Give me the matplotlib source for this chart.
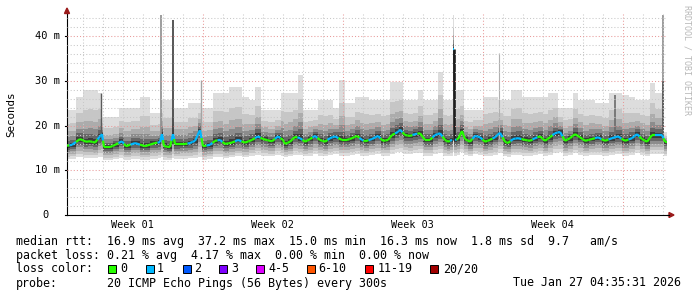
import numpy as np
import matplotlib
matplotlib.use('Agg')
import matplotlib.pyplot as plt
from matplotlib.collections import LineCollection
from matplotlib.patches import Polygon, Rectangle

plt.rcParams['font.family'] = ['DejaVu Sans Mono']

# time axis: days since the left edge of the graph (30 days shown)
days = [0.00, 0.25, 0.65, 0.95, 1.15, 1.40, 1.65, 1.75, 1.85, 2.15, 2.40, 2.75, 2.95, 3.40, 3.90,
        4.40, 4.65, 4.75, 4.85, 5.15, 5.30, 5.40, 5.90, 6.15, 6.40, 6.65, 6.80, 7.15, 7.40, 7.65,
        7.90, 8.25, 8.55, 8.90, 9.25, 9.55, 9.80, 10.25, 10.55, 10.80, 10.90, 11.15, 11.40, 11.65,
        11.90, 12.15, 12.40, 12.65, 12.90, 13.15, 13.40, 13.75, 14.00, 14.25, 14.50, 14.75, 14.90,
        15.25, 15.55, 15.80, 16.05, 16.25, 16.55, 16.65, 16.90, 17.15, 17.40, 17.65, 17.90, 18.15,
        18.40, 18.65, 18.90, 19.05, 19.25, 19.33, 19.40, 19.55, 19.75, 19.90, 20.15, 20.40, 20.65,
        20.90, 21.15, 21.40, 21.65, 21.90, 22.05, 22.30, 22.55, 22.90, 23.15, 23.40, 23.65, 23.90,
        24.15, 24.40, 24.65, 24.90, 25.15, 25.40, 25.65, 25.90, 26.25, 26.55, 26.90, 27.25, 27.55,
        27.90, 28.25, 28.50, 28.75, 29.00, 29.25, 29.50, 29.75, 29.90, 30.00]

# median rtt in ms
median_ms = [15.5, 15.7, 17.0, 16.4, 16.5, 16.2, 17.6, 18.1, 15.2, 15.2, 15.7, 16.5, 15.4, 16.1, 15.4,
             16.1, 16.3, 18.1, 15.4, 15.2, 18.1, 15.9, 15.9, 16.1, 16.6, 19.0, 15.4, 15.7, 16.6, 16.8,
             15.9, 16.2, 16.8, 16.2, 16.8, 17.6, 17.0, 16.5, 17.6, 16.8, 15.9, 16.4, 17.5, 17.2,
             16.4, 17.0, 17.7, 16.8, 16.4, 17.2, 17.6, 16.8, 16.8, 17.2, 17.7, 16.8, 16.5,
             17.0, 17.7, 16.6, 16.8, 17.9, 18.6, 19.1, 17.9, 17.7, 18.1, 18.3, 16.8, 16.8,
             17.9, 18.3, 16.8, 16.4, 16.8, 37.2, 16.8, 17.0, 18.8, 17.0, 16.4, 17.7, 17.4,
             16.4, 16.8, 17.4, 18.4, 16.4, 16.1, 17.0, 17.2, 16.8, 16.6, 17.2, 17.6, 16.6,
             17.4, 18.3, 18.6, 16.6, 17.2, 18.1, 17.4, 16.6, 17.0, 17.4, 16.6, 17.2, 17.6,
             16.6, 17.2, 18.1, 17.0, 16.4, 17.9, 17.9, 17.9, 16.4, 16.3]

# lost pings (of 20) per step
loss = [0, 1, 0, 0, 0, 0, 1, 1, 0, 0, 0, 1, 0, 1, 0,
        0, 1, 1, 0, 0, 1, 0, 0, 1, 1, 1, 0, 1, 0, 1,
        0, 0, 1, 0, 0, 1, 0, 0, 1, 0, 0, 0, 0, 1,
        0, 0, 1, 0, 0, 1, 1, 0, 0, 0, 0, 1, 0,
        1, 1, 0, 0, 0, 1, 1, 0, 0, 1, 0, 0, 0,
        1, 1, 0, 0, 1, 1, 1, 0, 0, 0, 0, 1, 1,
        0, 0, 1, 1, 0, 0, 1, 1, 0, 0, 1, 0, 0,
        0, 1, 1, 0, 0, 0, 0, 0, 0, 1, 0, 1, 1,
        0, 1, 1, 0, 0, 0, 1, 1, 0, 0]

# upper and lower edge of the smoke (ms)
smoke_hi = [23.5, 23.5, 26.4, 28.0, 28.0, 28.0, 27.3, 22.0, 22.0, 22.0, 22.0, 24.0, 24.0, 24.0, 26.4,
            22.8, 22.8, 25.7, 25.7, 25.7, 24.0, 24.0, 24.0, 25.0, 25.0, 25.0, 24.0, 24.0, 27.3, 27.3,
            27.3, 28.6, 28.6, 26.4, 25.7, 28.6, 23.5, 23.5, 23.5, 27.3, 27.3, 27.3, 27.3, 31.3,
            23.5, 23.5, 23.5, 25.7, 25.7, 25.7, 24.0, 30.2, 25.0, 25.0, 26.4, 26.4, 26.4,
            25.7, 25.7, 25.7, 25.7, 29.8, 29.8, 29.8, 25.7, 25.7, 25.7, 28.0, 25.7, 25.7,
            25.7, 32.0, 25.7, 25.7, 25.7, 44.7, 28.0, 28.0, 28.0, 23.5, 23.5, 23.5, 23.5,
            26.4, 26.4, 26.4, 25.7, 25.7, 25.7, 28.0, 28.0, 26.4, 26.4, 26.4, 26.4, 26.4,
            27.3, 27.3, 24.0, 24.0, 24.0, 27.3, 25.7, 25.7, 25.7, 25.0, 25.0, 27.3, 27.3,
            26.8, 26.4, 25.7, 25.7, 25.7, 29.5, 27.3, 27.3, 18.5, 18.5]
smoke_lo = [12.5, 12.6, 12.9, 12.8, 12.8, 12.7, 13.0, 13.0, 12.3, 12.3, 12.5, 12.7, 12.4, 12.6, 12.4,
            12.6, 12.7, 12.9, 12.4, 12.3, 12.8, 12.5, 12.6, 12.7, 12.8, 13.0, 12.4, 12.6, 12.9, 13.0,
            12.7, 12.9, 13.1, 12.9, 13.2, 13.5, 13.3, 13.1, 13.5, 13.3, 13.0, 13.1, 13.5, 13.4,
            13.1, 13.3, 13.6, 13.3, 13.1, 13.4, 13.6, 13.3, 13.3, 13.4, 13.6, 13.3, 13.2,
            13.4, 13.6, 13.3, 13.3, 13.7, 14.0, 14.1, 13.7, 13.6, 13.8, 13.9, 13.3, 13.3,
            13.7, 13.9, 13.3, 13.1, 13.3, 14.0, 13.3, 13.4, 14.0, 13.4, 13.1, 13.6, 13.5,
            13.1, 13.3, 13.5, 13.9, 13.1, 13.0, 13.4, 13.4, 13.3, 13.2, 13.4, 13.6, 13.2,
            13.5, 13.9, 14.0, 13.2, 13.4, 13.8, 13.5, 13.2, 13.4, 13.5, 13.2, 13.4, 13.6,
            13.2, 13.4, 13.8, 13.4, 13.1, 13.7, 13.7, 13.7, 13.1, 13.1]

# single-column smoke spikes: day, bottom, top (ms)
spike_days = [1.70, 4.70, 5.30, 6.70, 19.33, 21.60, 27.40, 29.80, 29.80]
spike_base = [16.5, 16.5, 16.0, 16.5, 16.8, 17.0, 17.0, 17.0, 17.0]
spike_tops = [27.3, 44.7, 43.6, 30.2, 37.2, 36.2, 26.8, 44.7, 30.0]
spike_shade = ['#5a5a5a', '#8c8c8c', '#3a3a3a', '#a4a4a4', '#1e1e1e', '#b0b0b0', '#6a6a6a', '#8a8a8a', '#555555']
spike_lw = [1.0, 1.2, 1.2, 1.0, 1.9, 0.8, 1.2, 1.2, 1.2]

week_labels = ['Week 01', 'Week 02', 'Week 03', 'Week 04']
week_centers = [3.285, 10.285, 17.285, 24.285]
week_starts = [6.785, 13.785, 20.785, 27.785]

loss_labels = ['0', '1', '2', '3', '4-5', '6-10', '11-19', '20/20']
loss_colors = ['#26ff00', '#00b8ff', '#0059ff', '#7e00ff', '#dd00ff', '#ff5500', '#ff0000', '#a10000']

W, H = 697, 297
fig = plt.figure(figsize=(W / 100, H / 100), dpi=100)
fig.patch.set_facecolor('white')
ax = fig.add_axes([67 / W, 1 - 215 / H, 600 / W, 201.5 / H])
ax.set_xlim(0, 30)
ax.set_ylim(0, 45.1)

t = np.array(days)
med = np.array(median_ms)
hi = np.array(smoke_hi)
lo = np.array(smoke_lo)

# smoke, outer (light) to inner (dark)
up_fracs = [1.0, 0.62, 0.40, 0.25, 0.14, 0.06]
lo_fracs = [1.0, 0.82, 0.64, 0.46, 0.30, 0.14]
shades = ['#dddddd', '#c6c6c6', '#acacac', '#8c8c8c', '#666666', '#3c3c3c']
for uf, lf, c in zip(up_fracs, lo_fracs, shades):
    ax.fill_between(t, med - lf * (med - lo), med + uf * (hi - med), step='mid',
                    color=c, lw=0, zorder=2)

for d, b, top, c, w in zip(spike_days, spike_base, spike_tops, spike_shade, spike_lw):
    ax.vlines(d, b, top, colors=c, lw=w, zorder=3)

# grid
grid_kw = dict(ls=(0, (1, 2)), lw=0.75, zorder=4)
for k in range(30):
    x = 0.785 + k
    if not any(abs(x - s) < 1e-6 for s in week_starts):
        ax.axvline(x, color='#c8c8c8', **grid_kw)
for s in week_starts:
    ax.axvline(s, color='#e89a9a', **grid_kw)
for y in range(2, 46, 2):
    ax.axhline(y, color='#e89a9a' if y % 10 == 0 else '#c8c8c8', **grid_kw)

# median line: each half segment takes the loss colour of its own point;
# very large jumps are left to the smoke column
pt_col = [loss_colors[min(l, 7)] for l in loss]
segs, cols = [], []
for i in range(len(t) - 1):
    if abs(med[i + 1] - med[i]) > 5:
        continue
    xm, ym = (t[i] + t[i + 1]) / 2, (med[i] + med[i + 1]) / 2
    segs.append([(t[i], med[i]), (xm, ym)])
    cols.append(pt_col[i])
    segs.append([(xm, ym), (t[i + 1], med[i + 1])])
    cols.append(pt_col[i + 1])
for i in range(len(t)):
    if med[i] > 30:
        segs.append([(t[i] - 0.04, med[i]), (t[i] + 0.04, med[i])])
        cols.append(pt_col[i])
lc = LineCollection(segs, colors=cols, linewidths=1.6, zorder=5, capstyle='butt')
ax.add_collection(lc)

for side in ['top', 'right']:
    ax.spines[side].set_visible(False)
for side in ['left', 'bottom']:
    ax.spines[side].set_color('black')
    ax.spines[side].set_linewidth(0.8)
ax.set_xticks([])
ax.set_yticks([])

# axis labels
ytr = ax.get_yaxis_transform()
for y, lab in zip([0, 10, 20, 30, 40], ['0', '10 m', '20 m', '30 m', '40 m']):
    xr = -18 / 600 if lab == '0' else -7 / 600
    ax.text(xr, y, lab, transform=ytr, ha='right', va='center', fontsize=7.5)
    ax.plot([-2 / 600, 0], [y, y], transform=ytr, color='black', lw=0.8, clip_on=False)
xtr = ax.get_xaxis_transform()
for c, lab in zip(week_centers, week_labels):
    ax.text(c, -9.5 / 201.5, lab, transform=xtr, ha='center', va='center', fontsize=7.3)

fig.text(11 / W, 1 - 114 / H, 'Seconds', rotation=90, ha='center', va='center', fontsize=7.8)
fig.text(687.5 / W, 1 - 60 / H, 'RRDTOOL / TOBI OETIKER', rotation=270, ha='center', va='center',
         fontsize=6, color='#b8b8b8')


def px(x, y):
    return (x / W, 1 - y / H)


# arrows and axis extension
fig.add_artist(plt.Line2D([667 / W, 669 / W], [1 - 215 / H] * 2, color='black', lw=0.8))
fig.add_artist(Polygon([px(64.5, 13.5), px(69.5, 13.5), px(67, 8)], closed=True,
                       transform=fig.transFigure, color='#9a1a1a'))
fig.add_artist(Polygon([px(669, 212.5), px(669, 217.5), px(674, 215)], closed=True,
                       transform=fig.transFigure, color='#9a1a1a'))

# legend block
fs = 8.4
fig.text(16 / W, 1 - 241 / H,
         'median rtt:  16.9 ms avg  37.2 ms max  15.0 ms min  16.3 ms now  1.8 ms sd  9.7   am/s',
         va='center', fontsize=fs)
fig.text(16 / W, 1 - 255 / H, 'packet loss: 0.21 % avg  4.17 % max  0.00 % min  0.00 % now',
         va='center', fontsize=fs)
fig.text(16 / W, 1 - 269 / H, 'loss color:', va='center', fontsize=fs)
box_x = [108, 146, 183, 219, 256, 307, 365, 430]
lab_x = [120, 157, 194, 231, 268, 318, 378, 443]
for bx, lx, lab, c in zip(box_x, lab_x, loss_labels, loss_colors):
    fig.add_artist(Rectangle(px(bx, 272.5), 7.5 / W, 7.5 / H, transform=fig.transFigure,
                             facecolor=c, edgecolor='black', lw=0.7))
    fig.text(lx / W, 1 - 269 / H, lab, va='center', fontsize=fs)
fig.text(16 / W, 1 - 283 / H, 'probe:', va='center', fontsize=fs)
fig.text(107 / W, 1 - 283 / H, '20 ICMP Echo Pings (56 Bytes) every 300s', va='center', fontsize=fs)
fig.text(681 / W, 1 - 283 / H, 'Tue Jan 27 04:35:31 2026', ha='right', va='center', fontsize=fs)

fig.savefig('out.png', dpi=100)
